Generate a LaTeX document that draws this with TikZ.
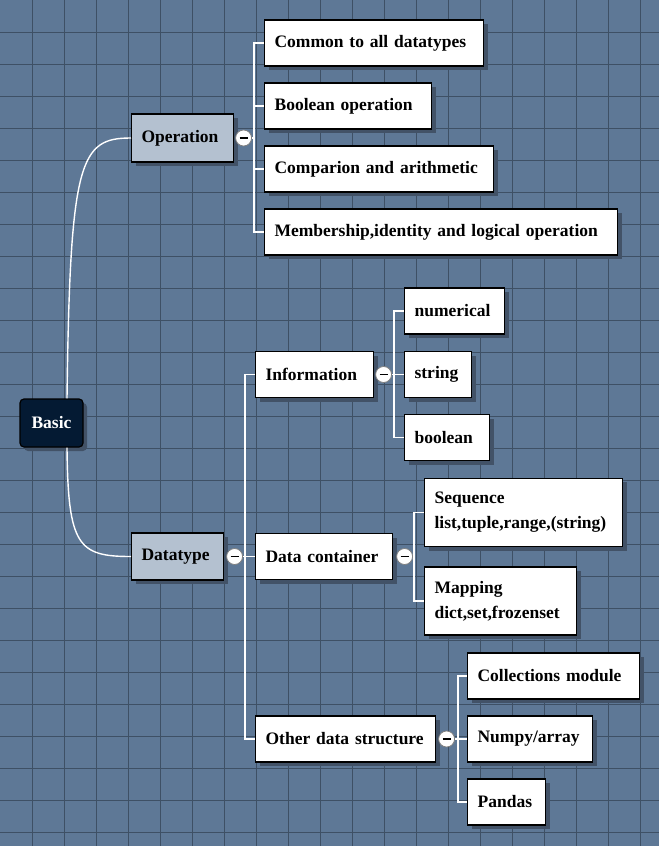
\documentclass[tikz,border=0pt]{standalone}
\usepackage{fontspec}
\setmainfont{Liberation Serif}
\usetikzlibrary{positioning,shadows}
\definecolor{bgc}{RGB}{94,120,150}
\definecolor{gridc}{RGB}{62,80,101}
\definecolor{shadowc}{RGB}{66,82,103}
\definecolor{topc}{RGB}{180,193,208}
\definecolor{rootc}{RGB}{4,26,51}
\begin{document}
\begin{tikzpicture}[x=1pt,y=-1pt,
    link/.style={draw=white,line width=1.4pt},
    gridline/.style={draw=gridc,line width=1pt},
    box/.style={draw=black,line width=1.2pt,fill=white,anchor=west,
      minimum height=46pt,inner xsep=10pt,align=left,
      font=\fontsize{17.5}{25}\selectfont\bfseries,
      drop shadow={shadow xshift=4pt,shadow yshift=-4pt,opacity=1,fill=shadowc}},
    topic/.style={box,fill=topc,minimum height=48pt},
    toggle/.style={circle,draw=gray,fill=white,minimum size=16pt,inner sep=0pt,
      line width=0.8pt,
      path picture={\draw[black,line width=1.2pt]
        ([xshift=-4pt]path picture bounding box.center) --
        ([xshift=4pt]path picture bounding box.center);}}]
  \useasboundingbox (0,0) rectangle (659,846);
  \fill[bgc] (0,0) rectangle (659,846);
  \foreach \i in {32,64,...,640} \draw[gridline] (\i,0) -- (\i,846);
  \foreach \i in {32,64,...,832} \draw[gridline] (0,\i) -- (659,\i);

  % root
  \node[box,anchor=center,align=center,fill=rootc,text=white,rounded corners=4pt,
    minimum width=63pt,minimum height=48pt] (basic) at (51.5,423) {Basic};

  % operation branch
  \node[topic,text width=82pt] (oper) at (131,138) {Operation};
  \node[toggle,right=1pt of oper] (t-oper) {};
  \node[box,text width=199pt] (common) at (264,43) {Common to all datatypes};
  \node[box,text width=147pt] (boolop) at (264,106) {Boolean operation};
  \node[box,text width=209pt] (compar) at (264,169) {Comparion and arithmetic};
  \node[box,text width=333pt] (member) at (264,232) {Membership,identity and logical operation};

  % datatype branch
  \node[topic,text width=72pt,minimum height=47pt] (dtype) at (131,556.5) {Datatype};
  \node[toggle,right=2pt of dtype] (t-dtype) {};
  \node[box,text width=98pt] (info) at (255,374.5) {Information};
  \node[toggle,right=1pt of info] (t-info) {};
  \node[box,text width=80pt] (numer) at (404,311) {numerical};
  \node[box,text width=47pt] (strg) at (404,374.5) {string};
  \node[box,text width=65pt] (bool) at (404,437.5) {boolean};

  \node[box,text width=117pt] (container) at (255,556.5) {Data container};
  \node[toggle,right=3pt of container] (t-container) {};
  \node[box,text width=178pt,inner ysep=14pt] (seq) at (424,512.5) {Sequence\\list,tuple,range,(string)};
  \node[box,text width=132pt,inner ysep=14pt] (mapping) at (424,601) {Mapping\\dict,set,frozenset};

  \node[box,text width=160pt] (other) at (255,739) {Other data structure};
  \node[toggle,right=2pt of other] (t-other) {};
  \node[box,text width=152pt] (coll) at (467,676) {Collections module};
  \node[box,text width=105pt] (numpy) at (467,739) {Numpy/array};
  \node[box,text width=58pt] (pandas) at (467,802) {Pandas};

  % connectors
  \draw[link] ([xshift=15.5pt]basic.north) .. controls +(3,-239) and +(-51,0) .. (oper.west);
  \draw[link] ([xshift=15.5pt]basic.south) .. controls +(1,98) and +(-53,0) .. (dtype.west);
  \foreach \c in {common,boolop,compar,member}
    \draw[link] (t-oper.east) -- ++(2,0) |- (\c.west);
  \foreach \c in {info,container,other}
    \draw[link] (t-dtype.east) -- ++(2,0) |- (\c.west);
  \foreach \c in {numer,strg,bool}
    \draw[link] (t-info.east) -- ++(2,0) |- (\c.west);
  \foreach \c in {seq,mapping}
    \draw[link] (t-container.east) -- ++(1,0) |- (\c.west);
  \foreach \c in {coll,numpy,pandas}
    \draw[link] (t-other.east) -- ++(3,0) |- (\c.west);
\end{tikzpicture}
\end{document}
